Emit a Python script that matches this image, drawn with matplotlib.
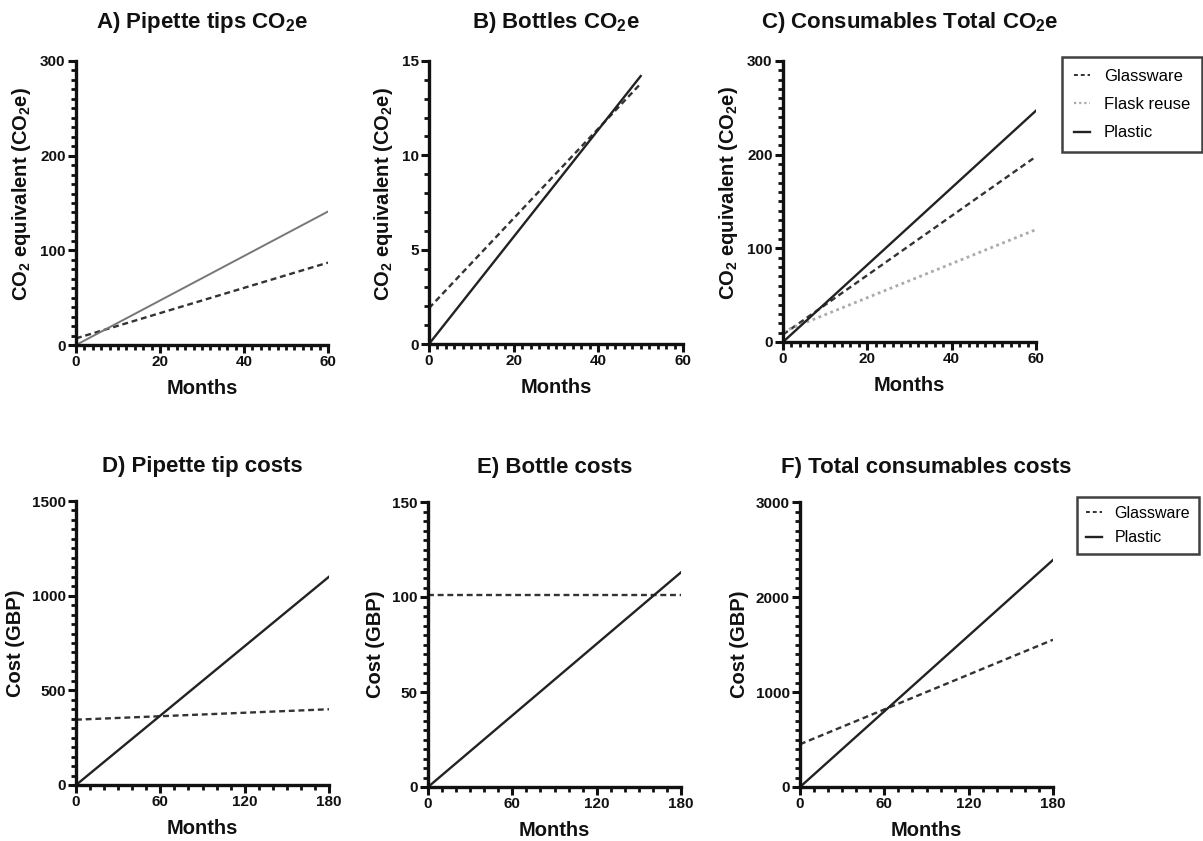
import matplotlib
matplotlib.use("Agg")
import matplotlib.pyplot as plt
from matplotlib.ticker import MultipleLocator
from matplotlib.lines import Line2D

plt.rcParams['font.family'] = ['Liberation Sans', 'DejaVu Sans']
plt.rcParams['mathtext.fontset'] = 'custom'
plt.rcParams['mathtext.rm'] = 'Liberation Sans:bold'
plt.rcParams['mathtext.bf'] = 'Liberation Sans:bold'
plt.rcParams['mathtext.it'] = 'Liberation Sans:bold'

# ---- data (line endpoints) ----
months_a = [0, 60]
a_glass = [7, 87]
a_plastic = [0, 141]

months_b = [0, 50]
b_glass = [1.9, 13.8]
b_plastic = [0, 14.2]

months_c = [0, 60]
c_glass = [8, 198]
c_flask = [11, 120]
c_plastic = [0, 247]

months_d = [0, 180]
d_glass = [345, 400]
d_plastic = [0, 1100]

months_e = [0, 180]
e_glass = [101, 101]
e_plastic = [0, 113]

months_f = [0, 180]
f_glass = [450, 1550]
f_plastic = [0, 2390]

titles = ["A) Pipette tips CO$_2$e", "B) Bottles CO$_2$e", "C) Consumables Total CO$_2$e",
          "D) Pipette tip costs", "E) Bottle costs", "F) Total consumables costs"]
ylab_co2 = "CO$_2$ equivalent (CO$_2$e)"
ylab_cost = "Cost (GBP)"
legend_top = ["Glassware", "Flask reuse", "Plastic"]
legend_bottom = ["Glassware", "Plastic"]

W, H = 1203, 841
fig = plt.figure(figsize=(W / 100, H / 100), dpi=100)

def add_ax(x0, x1, ytop, ybot):
    return fig.add_axes([x0 / W, 1 - ybot / H, (x1 - x0) / W, (ybot - ytop) / H])

dash = (0, (2.5, 1.6))
dot = (0, (1, 1.3))

def style(ax, xlim, xmaj, xmin, ylim, ymaj, ymin, title, ylabel, tpad, ylab_y):
    ax.set_xlim(*xlim)
    ax.set_ylim(*ylim)
    ax.xaxis.set_major_locator(MultipleLocator(xmaj))
    ax.xaxis.set_minor_locator(MultipleLocator(xmin))
    ax.yaxis.set_major_locator(MultipleLocator(ymaj))
    ax.yaxis.set_minor_locator(MultipleLocator(ymin))
    for s in ['top', 'right']:
        ax.spines[s].set_visible(False)
    for s in ['left', 'bottom']:
        ax.spines[s].set_linewidth(2.4)
        ax.spines[s].set_color('#111111')
    ax.tick_params(which='major', length=6, width=2.2, direction='out', color='#111111',
                   labelsize=11, pad=1.5, labelcolor='#111111')
    ax.tick_params(which='minor', length=3.5, width=2, direction='out', color='#111111')
    for lab in ax.get_xticklabels() + ax.get_yticklabels():
        lab.set_fontweight('bold')
    ax.set_title(title, fontsize=16, fontweight='bold', pad=tpad, color='#111111')
    ax.set_xlabel("Months", fontsize=14.5, fontweight='bold', labelpad=7, color='#111111')
    ax.set_ylabel(ylabel, fontsize=14.5, fontweight='bold', labelpad=5, color='#111111')
    ax.yaxis.label.set_y(ylab_y)

glass_kw = dict(color='#333333', lw=1.7, linestyle=dash)
plastic_kw = dict(color='#222222', lw=1.7, linestyle='-')
flask_kw = dict(color='#aaaaaa', lw=2.0, linestyle=dot)

TOP_PAD = 24
BOT_PAD = 21

# A
ax = add_ax(76, 328, 61, 345)
ax.plot(months_a, a_glass, **glass_kw)
ax.plot(months_a, a_plastic, color='#777777', lw=1.4)
style(ax, (0, 60), 20, 2, (0, 300), 100, 10, titles[0], ylab_co2, TOP_PAD, 0.53)

# B
ax = add_ax(429, 683, 61, 344)
ax.plot(months_b, b_glass, **glass_kw)
ax.plot(months_b, b_plastic, **plastic_kw)
style(ax, (0, 60), 20, 2, (0, 15), 5, 1, titles[1], ylab_co2, TOP_PAD, 0.53)

# C
ax = add_ax(783, 1036, 61, 342)
ax.plot(months_c, c_glass, **glass_kw)
ax.plot(months_c, c_flask, **flask_kw)
ax.plot(months_c, c_plastic, **plastic_kw)
style(ax, (0, 60), 20, 2, (0, 300), 100, 10, titles[2], ylab_co2, TOP_PAD, 0.53)
handles = [Line2D([], [], color='#333333', lw=1.4, linestyle=(0, (2, 1.5))),
           Line2D([], [], color='#aaaaaa', lw=1.6, linestyle=dot),
           Line2D([], [], color='#222222', lw=1.7)]
leg = fig.legend(handles, legend_top,
                 loc='upper left', bbox_to_anchor=(1062 / W, 1 - 57 / H),
                 borderaxespad=0, frameon=True, fancybox=False, fontsize=12,
                 handlelength=1.0, handletextpad=0.8, borderpad=0.7, labelspacing=0.8)
leg.get_frame().set_edgecolor('#111111')
leg.get_frame().set_linewidth(1.8)

# D
ax = add_ax(76, 329, 501, 785)
ax.plot(months_d, d_glass, **glass_kw)
ax.plot(months_d, d_plastic, **plastic_kw)
style(ax, (0, 180), 60, 10, (0, 1500), 500, 50, titles[3], ylab_cost, BOT_PAD, 0.5)

# E
ax = add_ax(428, 681, 502, 787)
ax.plot(months_e, e_glass, **glass_kw)
ax.plot(months_e, e_plastic, **plastic_kw)
style(ax, (0, 180), 60, 10, (0, 150), 50, 5, titles[4], ylab_cost, BOT_PAD, 0.5)

# F
ax = add_ax(800, 1053, 502, 787)
ax.plot(months_f, f_glass, **glass_kw)
ax.plot(months_f, f_plastic, **plastic_kw)
style(ax, (0, 180), 60, 10, (0, 3000), 1000, 100, titles[5], ylab_cost, BOT_PAD, 0.5)
handles2 = [Line2D([], [], color='#333333', lw=1.4, linestyle=(0, (2, 1.5))),
            Line2D([], [], color='#222222', lw=1.7)]
leg2 = fig.legend(handles2, legend_bottom,
                  loc='upper left', bbox_to_anchor=(1077 / W, 1 - 497 / H),
                  borderaxespad=0, frameon=True, fancybox=False, fontsize=11.5,
                  handlelength=1.0, handletextpad=0.8, borderpad=0.55, labelspacing=0.6)
leg2.get_frame().set_edgecolor('#111111')
leg2.get_frame().set_linewidth(1.8)

fig.savefig("out.png", dpi=100)
